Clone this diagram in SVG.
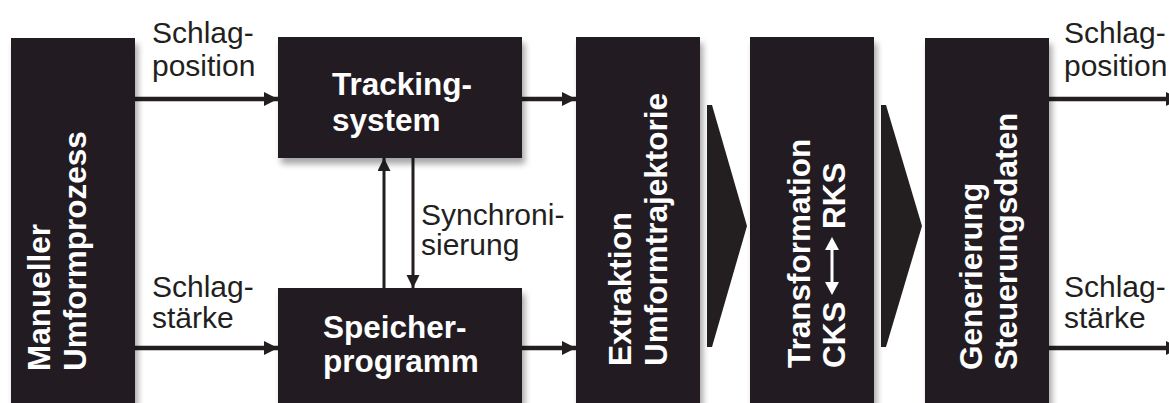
<svg xmlns="http://www.w3.org/2000/svg" width="1169" height="403" viewBox="0 0 1169 403">
  <style>
    .box { fill: #231f20; }
    .shadowed { filter: url(#shadow); }
    .btxt { font-family: "Liberation Sans", Arial, sans-serif; font-weight: bold; font-size: 31.5px; fill: #ffffff; }
    .lbl { font-family: "Liberation Sans", Arial, sans-serif; font-size: 30px; fill: #231f20; }
    .flow { stroke: #231f20; stroke-width: 4.5; fill: none; marker-end: url(#head); }
    .sync { stroke: #231f20; stroke-width: 3; fill: none; marker-end: url(#headS); }
  </style>
  <defs>
    <filter id="shadow" x="-20%" y="-20%" width="150%" height="150%">
      <feDropShadow dx="3" dy="6" stdDeviation="3" flood-color="#000" flood-opacity="0.35"/>
    </filter>
    <marker id="head" markerUnits="userSpaceOnUse" markerWidth="15" markerHeight="14" refX="14" refY="7" orient="auto">
      <path d="M0,0 L14,7 L0,14 z" fill="#231f20"/>
    </marker>
    <marker id="headS" markerUnits="userSpaceOnUse" markerWidth="14" markerHeight="14" refX="13" refY="6.5" orient="auto">
      <path d="M0,0 L13,6.5 L0,13 z" fill="#231f20"/>
    </marker>
  </defs>

  <rect width="1169" height="403" fill="#ffffff"/>

  <!-- connectors -->
  <g id="connectors">
    <line class="flow" x1="135" y1="99" x2="278" y2="99"/>
    <line class="flow" x1="135" y1="348" x2="278" y2="348"/>
    <line class="flow" x1="522" y1="99" x2="576" y2="99"/>
    <line class="flow" x1="522" y1="348" x2="576" y2="348"/>
    <line class="flow" x1="1049" y1="99" x2="1180" y2="99"/>
    <line class="flow" x1="1049" y1="348" x2="1180" y2="348"/>
    <line class="sync" x1="384" y1="288" x2="384" y2="158"/>
    <line class="sync" x1="413" y1="158" x2="413" y2="288"/>
    <!-- process chevrons -->
    <polygon class="box" points="707,105 712,105 747,226 712,347 707,347"/>
    <polygon class="box" points="881,105 886,105 922,226 886,347 881,347"/>
  </g>

  <!-- connector labels -->
  <g id="labels">
    <text class="lbl" x="152" y="43">Schlag-</text>
    <text class="lbl" x="152" y="76">position</text>
    <text class="lbl" x="152" y="297">Schlag-</text>
    <text class="lbl" x="152" y="328">stärke</text>
    <text class="lbl" x="421" y="225">Synchroni-</text>
    <text class="lbl" x="421" y="255">sierung</text>
    <text class="lbl" x="1064" y="43">Schlag-</text>
    <text class="lbl" x="1064" y="76">position</text>
    <text class="lbl" x="1064" y="297">Schlag-</text>
    <text class="lbl" x="1064" y="328">stärke</text>
  </g>

  <g id="manuell">
    <rect class="box shadowed" x="11" y="38" width="124" height="380"/>
    <text class="btxt" transform="translate(50,371) rotate(-90)">Manueller</text>
    <text class="btxt" transform="translate(86,371) rotate(-90)">Umformprozess</text>
  </g>

  <g id="tracking">
    <rect class="box shadowed" x="278" y="37" width="244" height="121"/>
    <text class="btxt" x="332" y="95">Tracking-</text>
    <text class="btxt" x="332" y="131">system</text>
  </g>

  <g id="speicher">
    <rect class="box shadowed" x="278" y="288" width="244" height="130"/>
    <text class="btxt" x="323" y="338">Speicher-</text>
    <text class="btxt" x="323" y="372">programm</text>
  </g>

  <g id="extraktion">
    <rect class="box shadowed" x="576" y="37" width="124" height="381"/>
    <text class="btxt" transform="translate(631,366) rotate(-90)">Extraktion</text>
    <text class="btxt" transform="translate(667,366) rotate(-90)">Umformtrajektorie</text>
  </g>

  <g id="transformation">
    <rect class="box shadowed" x="750" y="37" width="124" height="381"/>
    <text class="btxt" transform="translate(810,368) rotate(-90)">Transformation</text>
    <text class="btxt" transform="translate(845,368) rotate(-90)">CKS</text>
    <text class="btxt" transform="translate(845,229) rotate(-90)">RKS</text>
    <!-- double-headed arrow between the frames -->
    <line x1="832" y1="249" x2="832" y2="283" stroke="#ffffff" stroke-width="3"/>
    <polygon points="832,237 825,250 839,250" fill="#ffffff"/>
    <polygon points="832,295 825,282 839,282" fill="#ffffff"/>
  </g>

  <g id="generierung">
    <rect class="box shadowed" x="925" y="38" width="124" height="380"/>
    <text class="btxt" transform="translate(982,370) rotate(-90)">Generierung</text>
    <text class="btxt" transform="translate(1017,370) rotate(-90)">Steuerungsdaten</text>
  </g>
</svg>
